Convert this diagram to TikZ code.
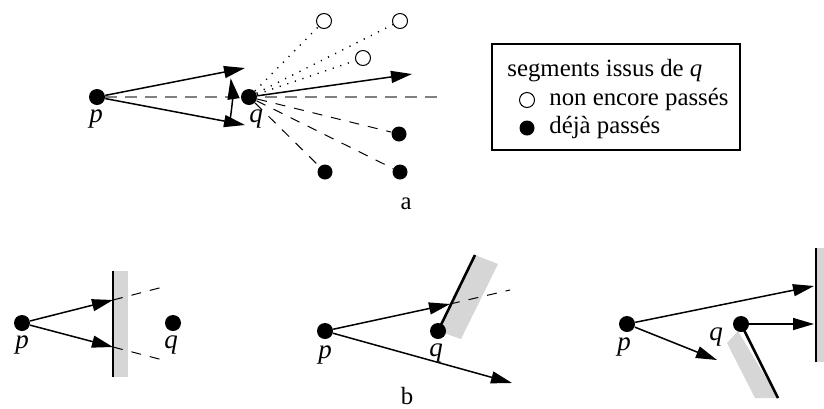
\documentclass[tikz,border=0pt]{standalone}
\usepackage{fontspec}
\setmainfont{Liberation Serif}
\usetikzlibrary{arrows.meta,backgrounds}
\tikzset{
  pnt/.style={circle,fill,inner sep=0pt,minimum size=8pt},
  vide/.style={circle,draw,fill=white,line width=0.5pt,inner sep=0pt,minimum size=7.5pt},
  fl/.style={line width=0.75pt,-{Triangle[length=10.5pt,width=6pt]}},
  tir/.style={line width=0.5pt,dash pattern=on 5pt off 4.5pt},
  pts/.style={line width=0.7pt,dash pattern=on 0.6pt off 3.4pt},
  axe/.style={gray,line width=0.7pt,dash pattern=on 6pt off 4pt},
  mur/.style={line width=1.3pt},
  ombre/.style={fill=black!16},
  lab/.style={font=\fontsize{13.5}{16}\selectfont\itshape},
  txt/.style={anchor=base west,inner sep=0pt}
}

\begin{document}
\begin{tikzpicture}[x=0.5pt,y=-0.5pt,font=\fontsize{12.4}{15}\selectfont]
\useasboundingbox (0,0) rectangle (824,408);
% (a) segments issus de q
\node[pnt] (p) at (97,97) {}; \node[lab] (lp) at (96,119) {p};
\node[pnt] (q) at (249,97) {}; \node[lab] (lq) at (256,119) {q};
\node[vide] (o1) at (324,21) {}; \node[vide] (o2) at (400,21) {}; \node[vide] (o3) at (363,58) {};
\node[pnt,minimum size=7.5pt] (f1) at (399,134) {}; \node[pnt,minimum size=7.5pt] (f2) at (325,172) {};
\node[pnt,minimum size=7.5pt] (f3) at (400,172) {};
\coordinate (ax) at (440,97); \coordinate (ph) at (245,68); \coordinate (pb) at (245,125);
\coordinate (qh) at (412,74); \coordinate (arcb) at (229.7,121.6);
\node[anchor=base] (a) at (406,209) {a};
\begin{scope}[on background layer]
\draw[axe] (p) -- (ax);
\draw[fl] (p) -- (ph); \draw[fl] (p) -- (pb);
\draw[fl] (arcb) arc[start angle=10.5,end angle=-8,radius=135];
\draw[fl] (q) -- (qh);
\foreach \o in {o1,o2,o3} \draw[pts] (q) -- (\o);
\foreach \f in {f1,f2,f3} \draw[tir] (q) -- (\f);
\end{scope}
% legende
\node[draw,line width=0.6pt,minimum width=124pt,minimum height=53pt,inner sep=0pt] (leg) at (616,97) {};
\node[txt] (l1) at (507,76) {segments issus de \textit{q}};
\node[vide] (lo) at (527,100) {}; \node[txt] (l2) at (549,105) {non encore passés};
\node[pnt,minimum size=7.5pt] (lf) at (527,128) {}; \node[txt] (l3) at (549,133) {déjà passés};
% (b) premier cas
\fill[ombre] (113,271) rectangle (128,377); \draw[mur] (113,271) -- (113,377);
\node[pnt] (p1) at (22,323) {}; \node[lab] (lp1) at (22,345) {p};
\node[pnt] (q1) at (173,323) {}; \node[lab] (lq1) at (171,345) {q};
\coordinate (m1) at (113,300); \coordinate (m2) at (113,347);
\coordinate (d1) at (163,287); \coordinate (d2) at (163,360);
\draw[fl] (p1) -- (m1); \draw[fl] (p1) -- (m2);
\draw[tir] (m1) -- (d1); \draw[tir] (m2) -- (d2);
% (b) deuxieme cas
\fill[ombre] (438,331) -- (475,255) -- (498,264) -- (461,339) -- cycle;
\node[pnt] (p2) at (325,331) {}; \node[lab] (lp2) at (325,355) {p};
\node[pnt] (q2) at (438,331) {}; \node[lab] (lq2) at (436,353) {q};
\coordinate (w2) at (475,255); \coordinate (m3) at (450,304);
\coordinate (d3) at (510,290); \coordinate (e2) at (512,383);
\draw[mur] (q2.center) -- (w2);
\draw[fl] (p2) -- (m3); \draw[tir] (m3) -- (d3); \draw[fl] (p2) -- (e2);
\node[anchor=base,inner sep=0.5pt] (b) at (407,404) {b};
% (b) troisieme cas
\fill[ombre] (816,248) rectangle (824,362); \draw[mur] (816,248) -- (816,362);
\fill[ombre] (738,331) -- (778,398) -- (755,398) -- (727,343) -- cycle;
\node[pnt] (p3) at (627,324) {}; \node[lab] (lp3) at (624,347) {p};
\node[pnt] (q3) at (741,324) {}; \node[lab] (lq3) at (716,337) {q};
\coordinate (w3) at (778,398);
\coordinate (m4) at (814,286); \coordinate (m5) at (814,324); \coordinate (e3) at (717,360);
\draw[mur] (q3.center) -- (w3);
\draw[fl] (p3) -- (m4); \draw[fl] (q3) -- (m5); \draw[fl] (p3) -- (e3);
\end{tikzpicture}
\end{document}
